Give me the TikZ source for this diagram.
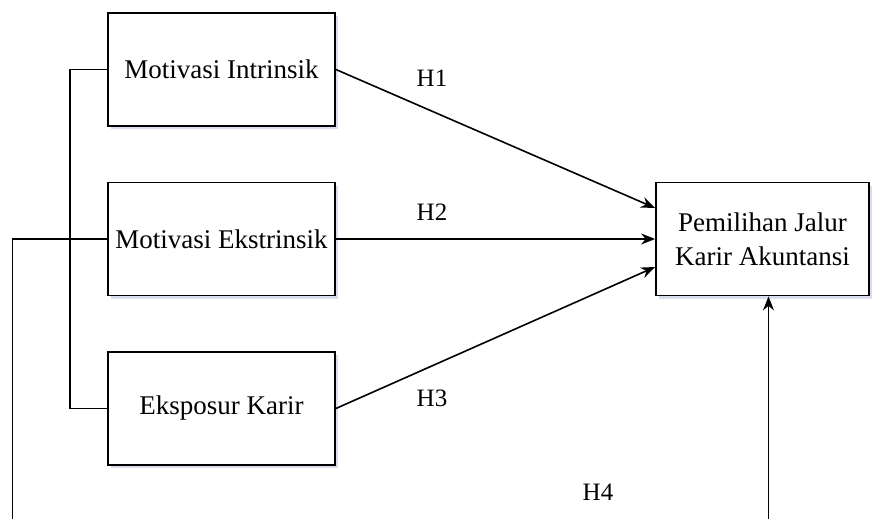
\documentclass[tikz,border=0pt]{standalone}
\usepackage{fontspec}
\setmainfont{Liberation Serif}
\usetikzlibrary{arrows.meta,shadows}
\definecolor{shadowblue}{RGB}{150, 160, 200}
\tikzstyle{block} = [rectangle, draw, line width=1.8pt, fill=white, align=center,
    minimum width=227pt, minimum height=113pt, inner sep=0pt,
    font=\fontsize{27}{34}\selectfont,
    drop shadow={fill=shadowblue, opacity=0.35, shadow xshift=3pt, shadow yshift=-3pt}]
\tikzstyle{line} = [draw, line width=1.6pt, -{Stealth[length=14pt,width=11pt]}]
\tikzstyle{link} = [draw, line width=1.6pt]
\tikzstyle{hyp} = [font=\fontsize{25}{28}\selectfont, inner sep=0pt]

\begin{document}
\begin{tikzpicture}[x=1pt, y=-1pt, node distance=169.5pt]
  \useasboundingbox (0,0) rectangle (873,519);
  \node [block] (intrinsik) at (221.5,69.5) {Motivasi Intrinsik};
  \node [block, below of=intrinsik] (ekstrinsik) {Motivasi Ekstrinsik};
  \node [block, below of=ekstrinsik] (eksposur) {Eksposur Karir};
  \node [block, minimum width=213pt, right of=ekstrinsik, node distance=541pt]
    (akuntansi) {Pemilihan Jalur\\Karir Akuntansi};
  \coordinate (bawahkiri) at (12.5,519);
  \coordinate (bawahkanan) at (768.5,519);
  % hypothesis arrows
  \path [line] (intrinsik.east) -- ([yshift=31pt]akuntansi.west);
  \path [line] (ekstrinsik.east) -- (akuntansi.west);
  \path [line] (eksposur.east) -- ([yshift=-28pt]akuntansi.west);
  \path [line] (bawahkanan) -- (bawahkanan |- akuntansi.south);
  % side lines
  \path [link] (intrinsik.west) -- ++(-37,0) |- (eksposur.west);
  \path [link] (ekstrinsik.west) -| (bawahkiri);
  % labels
  \node [hyp] (h1) at (432,78) {H1};
  \node [hyp] (h2) at (432,212) {H2};
  \node [hyp] (h3) at (432,398) {H3};
  \node [hyp] (h4) at (598,492) {H4};
\end{tikzpicture}
\end{document}
